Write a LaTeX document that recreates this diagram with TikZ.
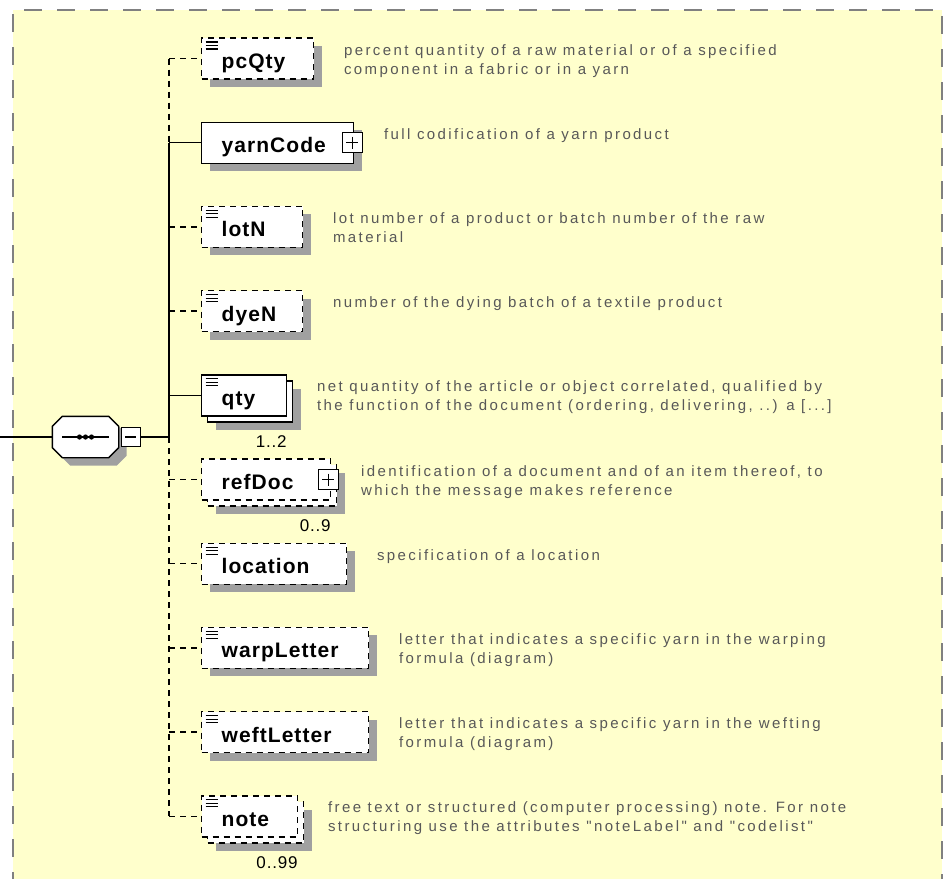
\documentclass[tikz,border=0pt]{standalone}
\usepackage{fontspec}
\setmainfont{Liberation Sans}
\newfontfamily\descfont[LetterSpace=16]{Liberation Sans}
\newfontfamily\namefont[LetterSpace=5]{Liberation Sans}
\usetikzlibrary{positioning,shadows}
\definecolor{paper}{RGB}{255,255,204}
\definecolor{frame}{RGB}{128,128,128}
\definecolor{shade}{RGB}{160,160,160}
\definecolor{descgray}{RGB}{88,88,88}

\begin{document}
\begin{tikzpicture}[x=1pt, y=-1pt, line width=1.4pt,
  opt line/.style={dash pattern=on 6pt off 5pt},
  elem/.style={rectangle, draw, fill=white, anchor=west, minimum height=41pt, inner ysep=0pt, inner xsep=20pt, align=left, text height=20.5pt, text depth=0.5pt, font=\namefont\bfseries\fontsize{21}{24}\selectfont},
  req/.style={elem, solid},
  opt/.style={elem, opt line},
  dropped/.style={general shadow={shadow xshift=8pt, shadow yshift=-8pt, fill=shade}},
  many/.style={general shadow={shadow xshift=14pt, shadow yshift=-14pt, fill=shade}, general shadow={shadow xshift=6pt, shadow yshift=-6pt, fill=white, draw=black}},
  simple/.style={path picture={\foreach \k in {4,7.5,11} \draw[solid, line width=1.1pt] ([xshift=4pt, yshift=-\k pt]path picture bounding box.north west) -- ++(12pt,0pt);}},
  tog/.style={rectangle, draw, fill=white, solid, line width=1.2pt, minimum size=20pt, inner sep=0pt},
  plusbox/.style={tog, path picture={\draw ([xshift=4pt]path picture bounding box.west) -- ([xshift=-4pt]path picture bounding box.east) ([yshift=-4pt]path picture bounding box.north) -- ([yshift=4pt]path picture bounding box.south);}},
  minusbox/.style={tog, minimum size=19pt, path picture={\draw ([xshift=4pt]path picture bounding box.west) -- ([xshift=-4pt]path picture bounding box.east);}},
  seqspot/.style={rectangle, minimum width=65pt, minimum height=40pt, inner sep=0pt},
  desc/.style={anchor=north west, inner sep=0pt, align=left, text=descgray, font=\descfont\fontsize{15}{19}\selectfont},
  occurs/.style={anchor=north east, inner sep=0pt, font=\namefont\fontsize{17}{20}\selectfont}]
\useasboundingbox (0,0) rectangle (944,878);
\fill[paper] (13,10) rectangle (942,890);
\draw[frame, line width=2.5pt, dash pattern=on 18pt off 15pt] (13,890) -- (13,10) -- (942,10) -- (942,890);
\begin{scope}
\coordinate (in) at (0,437);
\node[seqspot] (seq) at (85.5,437) {};
% sequence compositor
\filldraw[fill=white, dropped] ([xshift=10pt]seq.north west) -- ([xshift=-10pt]seq.north east) -- ([yshift=-10pt]seq.north east) -- ([yshift=10pt]seq.south east) -- ([xshift=-10pt]seq.south east) -- ([xshift=10pt]seq.south west) -- ([yshift=10pt]seq.south west) -- ([yshift=-10pt]seq.north west) -- cycle;
\draw[line width=1.4pt] ([xshift=10pt]seq.west) -- ([xshift=-10pt]seq.east);
\foreach \dx in {-6,0,6} \fill ([xshift=\dx pt]seq.center) circle (2.6pt);
\node[minusbox, right=2pt of seq] (seq-x) {};
\coordinate (hub) at (169,437);
\coordinate (s-pcQty) at (169,58.5);
\coordinate (s-yarnCode) at (169,142.7);
\coordinate (s-lotN) at (169,226.9);
\coordinate (s-dyeN) at (169,311.1);
\coordinate (s-qty) at (169,395.3);
\coordinate (s-refDoc) at (169,479.5);
\coordinate (s-location) at (169,563.7);
\coordinate (s-warpLetter) at (169,647.9);
\coordinate (s-weftLetter) at (169,732.1);
\coordinate (s-note) at (169,816.3);
\node[opt, dropped, simple, text width=72pt] (pcQty) at (201,58.5) {pcQty};
\node[req, dropped, text width=112pt] (yarnCode) at (201,142.7) {yarnCode};
\node[plusbox] (yarnCode-x) at ([xshift=-2pt]yarnCode.east) {};
\node[opt, dropped, simple, text width=61pt] (lotN) at (201,226.9) {lotN};
\node[opt, dropped, simple, text width=61pt] (dyeN) at (201,311.1) {dyeN};
\node[req, many, simple, text width=45pt] (qty) at (201,395.3) {qty};
\node[occurs] (qty-n) at ([yshift=-18pt]qty.south east) {1..2};
\node[opt, many, text width=89pt] (refDoc) at (201,479.5) {refDoc};
\node[plusbox] (refDoc-x) at ([xshift=-3pt]refDoc.east) {};
\node[occurs] (refDoc-n) at ([yshift=-18pt]refDoc.south east) {0..9};
\node[opt, dropped, simple, text width=105pt] (location) at (201,563.7) {location};
\node[opt, dropped, simple, text width=127pt] (warpLetter) at (201,647.9) {warpLetter};
\node[opt, dropped, simple, text width=127pt] (weftLetter) at (201,732.1) {weftLetter};
\node[opt, many, simple, text width=56pt] (note) at (201,816.3) {note};
\node[occurs] (note-n) at ([yshift=-18pt]note.south east) {0..99};
\end{scope}
\begin{scope}
\node[desc] (pcQty-d) at ([xshift=29pt, yshift=15pt]pcQty.east) {percent quantity of a raw material or of a specified\\component in a fabric or in a yarn};
\node[desc] (yarnCode-d) at ([xshift=29pt, yshift=15pt]yarnCode.east) {full codification of a yarn product};
\node[desc] (lotN-d) at ([xshift=29pt, yshift=15pt]lotN.east) {lot number of a product or batch number of the raw\\material};
\node[desc] (dyeN-d) at ([xshift=29pt, yshift=15pt]dyeN.east) {number of the dying batch of a textile product};
\node[desc] (qty-d) at ([xshift=29pt, yshift=15pt]qty.east) {net quantity of the article or object correlated, qualified by\\the function of the document (ordering, delivering, ..) a [...]};
\node[desc] (refDoc-d) at ([xshift=29pt, yshift=15pt]refDoc.east) {identification of a document and of an item thereof, to\\which the message makes reference};
\node[desc] (location-d) at ([xshift=29pt, yshift=15pt]location.east) {specification of a location};
\node[desc] (warpLetter-d) at ([xshift=29pt, yshift=15pt]warpLetter.east) {letter that indicates a specific yarn in the warping\\formula (diagram)};
\node[desc] (weftLetter-d) at ([xshift=29pt, yshift=15pt]weftLetter.east) {letter that indicates a specific yarn in the wefting\\formula (diagram)};
\node[desc] (note-d) at ([xshift=29pt, yshift=15pt]note.east) {free text or structured (computer processing) note. For note\\structuring use the attributes "noteLabel" and "codelist"};
\end{scope}
\begin{scope}
\draw (in) -- (seq);
\draw (seq-x) -- (hub);
\draw[opt line] (s-pcQty) -- (s-yarnCode);
\draw (s-yarnCode) -- (hub);
\draw[opt line] (hub) -- (s-note);
\draw[opt line] (s-pcQty) -- (pcQty);
\draw (s-yarnCode) -- (yarnCode);
\draw[opt line] (s-lotN) -- (lotN);
\draw[opt line] (s-dyeN) -- (dyeN);
\draw (s-qty) -- (qty);
\draw[opt line] (s-refDoc) -- (refDoc);
\draw[opt line] (s-location) -- (location);
\draw[opt line] (s-warpLetter) -- (warpLetter);
\draw[opt line] (s-weftLetter) -- (weftLetter);
\draw[opt line] (s-note) -- (note);
\end{scope}
\end{tikzpicture}
\end{document}
